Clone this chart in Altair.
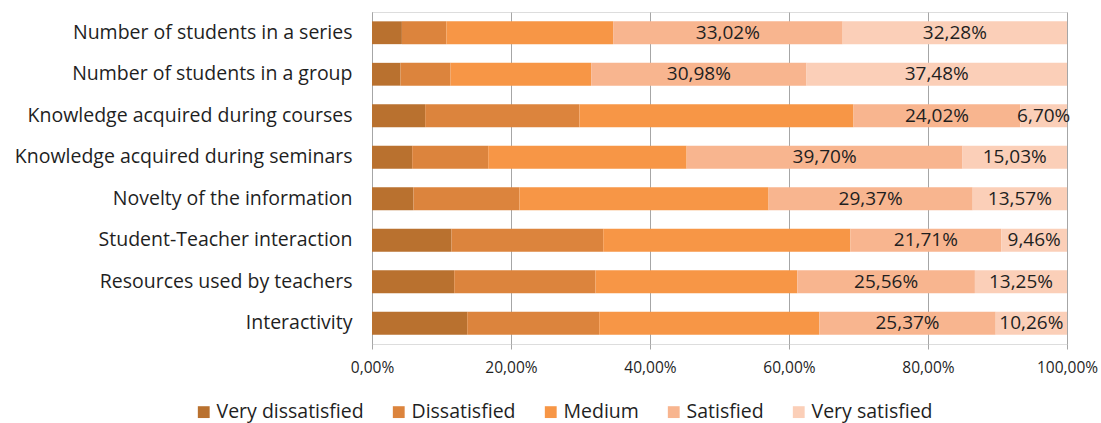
import altair as alt
import pandas as pd

categories = [
    "Number of students in a series",
    "Number of students in a group",
    "Knowledge acquired during courses",
    "Knowledge acquired during seminars",
    "Novelty of the information",
    "Student-Teacher interaction",
    "Resources used by teachers",
    "Interactivity",
]
levels = ["Very dissatisfied", "Dissatisfied", "Medium", "Satisfied", "Very satisfied"]
colors = ["#B9712F", "#DC843D", "#F79646", "#F8B58F", "#FBCFB8"]

very_dissatisfied = [4.30, 4.10, 7.65, 5.78, 5.97, 11.44, 11.83, 13.70]
dissatisfied = [6.40, 7.20, 22.20, 10.94, 15.25, 21.83, 20.33, 18.99]
medium = [24.00, 20.24, 39.43, 28.55, 35.84, 35.56, 29.03, 31.68]
satisfied = [33.02, 30.98, 24.02, 39.70, 29.37, 21.71, 25.56, 25.37]
very_satisfied = [32.28, 37.48, 6.70, 15.03, 13.57, 9.46, 13.25, 10.26]

series = [very_dissatisfied, dissatisfied, medium, satisfied, very_satisfied]
rows = []
for li, (lvl, vals) in enumerate(zip(levels, series)):
    for c, v in zip(categories, vals):
        rows.append({"category": c, "level": lvl, "order": li, "value": v})
df = pd.DataFrame(rows)

FONT = "Open Sans"
TXT = "#1f1f1f"

y_enc = alt.Y("category:N", sort=categories, title=None,
              scale=alt.Scale(paddingInner=0.45, paddingOuter=0.225),
              axis=alt.Axis(domain=True, domainColor="#A6A6A6", ticks=False,
                            labelFontSize=19.5, labelColor=TXT, labelFont=FONT,
                            labelPadding=20, labelLimit=400))

bars = alt.Chart(df).mark_bar().encode(
    y=y_enc,
    x=alt.X("value:Q", stack="zero", title=None,
            scale=alt.Scale(domain=[0, 100], nice=False),
            axis=alt.Axis(values=[0, 20, 40, 60, 80, 100], domain=False,
                          grid=True, gridColor="#A6A6A6", gridWidth=1,
                          ticks=True, tickSize=5, tickColor="#A6A6A6",
                          labelFlush=False,
                          labelExpr="replace(format(datum.value, '.2f'), '.', ',') + '%'",
                          labelFontSize=15.5, labelColor=TXT, labelFont=FONT,
                          labelPadding=11)),
    color=alt.Color("level:N", sort=levels,
                    scale=alt.Scale(domain=levels, range=colors),
                    legend=alt.Legend(orient="none", direction="horizontal",
                                      legendX=-178, legendY=390, title=None,
                                      symbolType="square", symbolSize=140,
                                      symbolStrokeWidth=0, labelOffset=3,
                                      labelFontSize=19.5, labelFont=FONT,
                                      labelColor=TXT, columnPadding=25,
                                      labelLimit=300)),
    order=alt.Order("order:Q"),
)

labels = alt.Chart(df).transform_stack(
    stack="value", groupby=["category"], as_=["v0", "v1"],
    sort=[alt.SortField("order", order="ascending")],
).transform_filter(
    "datum.order >= 3"
).transform_calculate(
    mid="(datum.v0 + datum.v1) / 2",
    txt="replace(format(datum.value, '.2f'), '.', ',') + '%'",
).mark_text(fontSize=19, font=FONT, color=TXT, baseline="middle").encode(
    y=alt.Y("category:N", sort=categories),
    x=alt.X("mid:Q"),
    text="txt:N",
)

chart = alt.layer(bars, labels).properties(
    width=695, height=332,
    autosize=alt.AutoSizeParams(type="none"),
    padding={"left": 372, "top": 12, "right": 34, "bottom": 79},
).configure_view(stroke=None).configure(background="white")

chart.save("out.html", embed_options={"renderer": "svg", "actions": False})
